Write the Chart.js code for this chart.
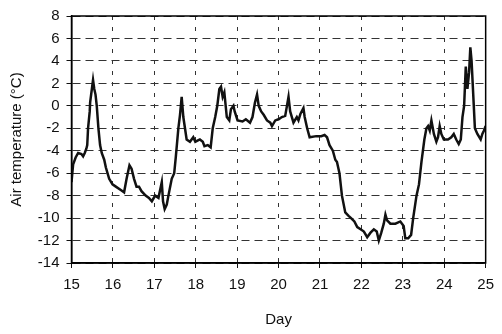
<!DOCTYPE html>
<html>
<head>
<meta charset="utf-8">
<script src="https://cdn.jsdelivr.net/npm/chart.js@4"></script>
<style>
  html, body { margin: 0; padding: 0; background: #fff; }
  #wrap { width: 502px; height: 334px; }
</style>
</head>
<body>
<div id="wrap"><canvas id="chart"></canvas></div>
<script>
// day of month (x) and air temperature in degC (y)
const days = [
  15.00, 15.04, 15.10, 15.16, 15.24, 15.28, 15.32, 15.36, 15.38, 15.40,
  15.44, 15.45, 15.52, 15.55, 15.58, 15.61, 15.65, 15.69, 15.73, 15.79,
  15.83, 15.91, 15.99, 16.07, 16.19, 16.27, 16.33, 16.40, 16.45, 16.51,
  16.57, 16.63, 16.69, 16.79, 16.87, 16.94, 17.02, 17.10, 17.18, 17.21,
  17.25, 17.30, 17.34, 17.42, 17.48, 17.52, 17.58, 17.62, 17.66, 17.70,
  17.74, 17.78, 17.86, 17.94, 17.99, 18.10, 18.17, 18.21, 18.29, 18.36,
  18.41, 18.47, 18.52, 18.57, 18.61, 18.65, 18.69, 18.75, 18.81, 18.85,
  18.91, 18.94, 19.01, 19.13, 19.21, 19.31, 19.37, 19.43, 19.48, 19.52,
  19.58, 19.64, 19.72, 19.80, 19.84, 19.92, 20.00, 20.08, 20.16, 20.24,
  20.28, 20.36, 20.44, 20.48, 20.53, 20.60, 20.63, 20.69, 20.75, 20.91,
  21.03, 21.11, 21.17, 21.23, 21.31, 21.37, 21.41, 21.47, 21.53, 21.61,
  21.69, 21.75, 21.83, 21.90, 21.98, 22.06, 22.14, 22.22, 22.30, 22.37,
  22.42, 22.48, 22.54, 22.58, 22.62, 22.70, 22.82, 22.94, 23.02, 23.06,
  23.13, 23.20, 23.25, 23.33, 23.39, 23.45, 23.52, 23.57, 23.61, 23.65,
  23.69, 23.75, 23.81, 23.85, 23.89, 23.93, 23.99, 24.09, 24.17, 24.23,
  24.29, 24.35, 24.40, 24.44, 24.48, 24.52, 24.56, 24.60, 24.63, 24.66,
  24.70, 24.74, 24.80, 24.88, 24.92, 24.96, 25.00
];
const airTemp = [
  -6.8, -5.2, -4.6, -4.2, -4.3, -4.5, -4.2, -3.8, -3.5, -2.0,
  -0.5, 0.3, 2.3, 1.5, 1.0, 0.0, -2.0, -3.5, -4.2, -4.8,
  -5.5, -6.5, -7.0, -7.2, -7.5, -7.7, -6.5, -5.3, -5.6, -6.5,
  -7.2, -7.2, -7.6, -8.0, -8.2, -8.5, -8.0, -8.2, -6.8, -8.5,
  -9.2, -8.8, -8.0, -6.5, -6.0, -4.5, -2.0, -0.8, 0.8, -1.0,
  -2.0, -3.0, -3.2, -2.8, -3.2, -3.0, -3.2, -3.6, -3.5, -3.7,
  -2.0, -1.0, 0.0, 1.5, 1.7, 0.8, 1.2, -1.0, -1.3, -0.3,
  0.0, -0.5, -1.3, -1.4, -1.2, -1.5, -1.0, 0.3, 1.0, 0.0,
  -0.5, -0.8, -1.3, -1.5, -1.8, -1.3, -1.2, -1.0, -0.9, 0.8,
  -0.5, -1.5, -1.0, -1.3, -0.7, -0.2, -1.0, -2.0, -2.8, -2.7,
  -2.7, -2.6, -2.8, -3.5, -4.0, -4.8, -5.0, -6.0, -8.0, -9.5,
  -9.8, -10.0, -10.3, -10.8, -11.0, -11.2, -11.7, -11.3, -11.0, -11.2,
  -12.0, -11.3, -10.5, -9.7, -10.2, -10.5, -10.5, -10.3, -10.7, -11.8,
  -11.8, -11.5, -10.0, -8.0, -7.0, -5.0, -3.0, -2.0, -1.8, -2.2,
  -1.3, -2.5, -3.2, -2.8, -1.8, -2.5, -3.0, -3.0, -2.8, -2.5,
  -3.0, -3.4, -3.0, -1.0, 0.0, 3.5, 1.5, 3.0, 5.2, 4.0,
  1.0, -2.0, -2.5, -3.0, -2.5, -2.2, -1.8
];
const xTicks = [15, 25, 1];   // min, max, step
const yTicks = [-14, 8, 2];

const points = days.map((d, i) => ({ x: d, y: airTemp[i] }));

// solid frame round the plot area
const frame = {
  id: 'frame',
  afterDraw(chart) {
    const { ctx, chartArea: a } = chart;
    ctx.save();
    ctx.strokeStyle = '#000';
    ctx.lineWidth = 1.5;
    ctx.strokeRect(a.left, a.top, a.right - a.left, a.bottom - a.top);
    ctx.restore();
  }
};

const font = { family: "'Liberation Sans', Arial, sans-serif", size: 15 };

new Chart(document.getElementById('chart'), {
  type: 'line',
  data: {
    datasets: [{
      data: points,
      borderColor: '#111',
      borderWidth: 2.5,
      pointRadius: 0,
      tension: 0,
      fill: false
    }]
  },
  options: {
    responsive: true,
    maintainAspectRatio: false,
    animation: false,
    layout: { padding: { left: 0, top: 15, right: 10, bottom: 0 } },
    plugins: { legend: { display: false }, tooltip: { enabled: false } },
    scales: {
      x: {
        type: 'linear',
        min: xTicks[0],
        max: xTicks[1],
        afterFit: s => { s.height = 71; },
        ticks: { stepSize: xTicks[2], color: '#111', font: font, padding: 8, maxRotation: 0 },
        grid: { color: '#333', lineWidth: 1, tickLength: 5, tickColor: '#111' },
        border: { display: true, color: '#000', width: 1.5, dash: [4, 7] },
        title: { display: true, text: 'Day', color: '#111', font: font, padding: { top: 0, bottom: 5 } }
      },
      y: {
        min: yTicks[0],
        max: yTicks[1],
        afterFit: s => { s.width = 71.5; },
        ticks: { stepSize: yTicks[2], color: '#111', font: font, padding: 7 },
        grid: { color: '#333', lineWidth: 1, tickLength: 5, tickColor: '#111' },
        border: { display: true, color: '#000', width: 1.5, dash: [8, 5] },
        title: { display: true, text: 'Air temperature (°C)', color: '#111', font: font, padding: { top: 8, bottom: 0 } }
      }
    }
  },
  plugins: [frame]
});
</script>
</body>
</html>
